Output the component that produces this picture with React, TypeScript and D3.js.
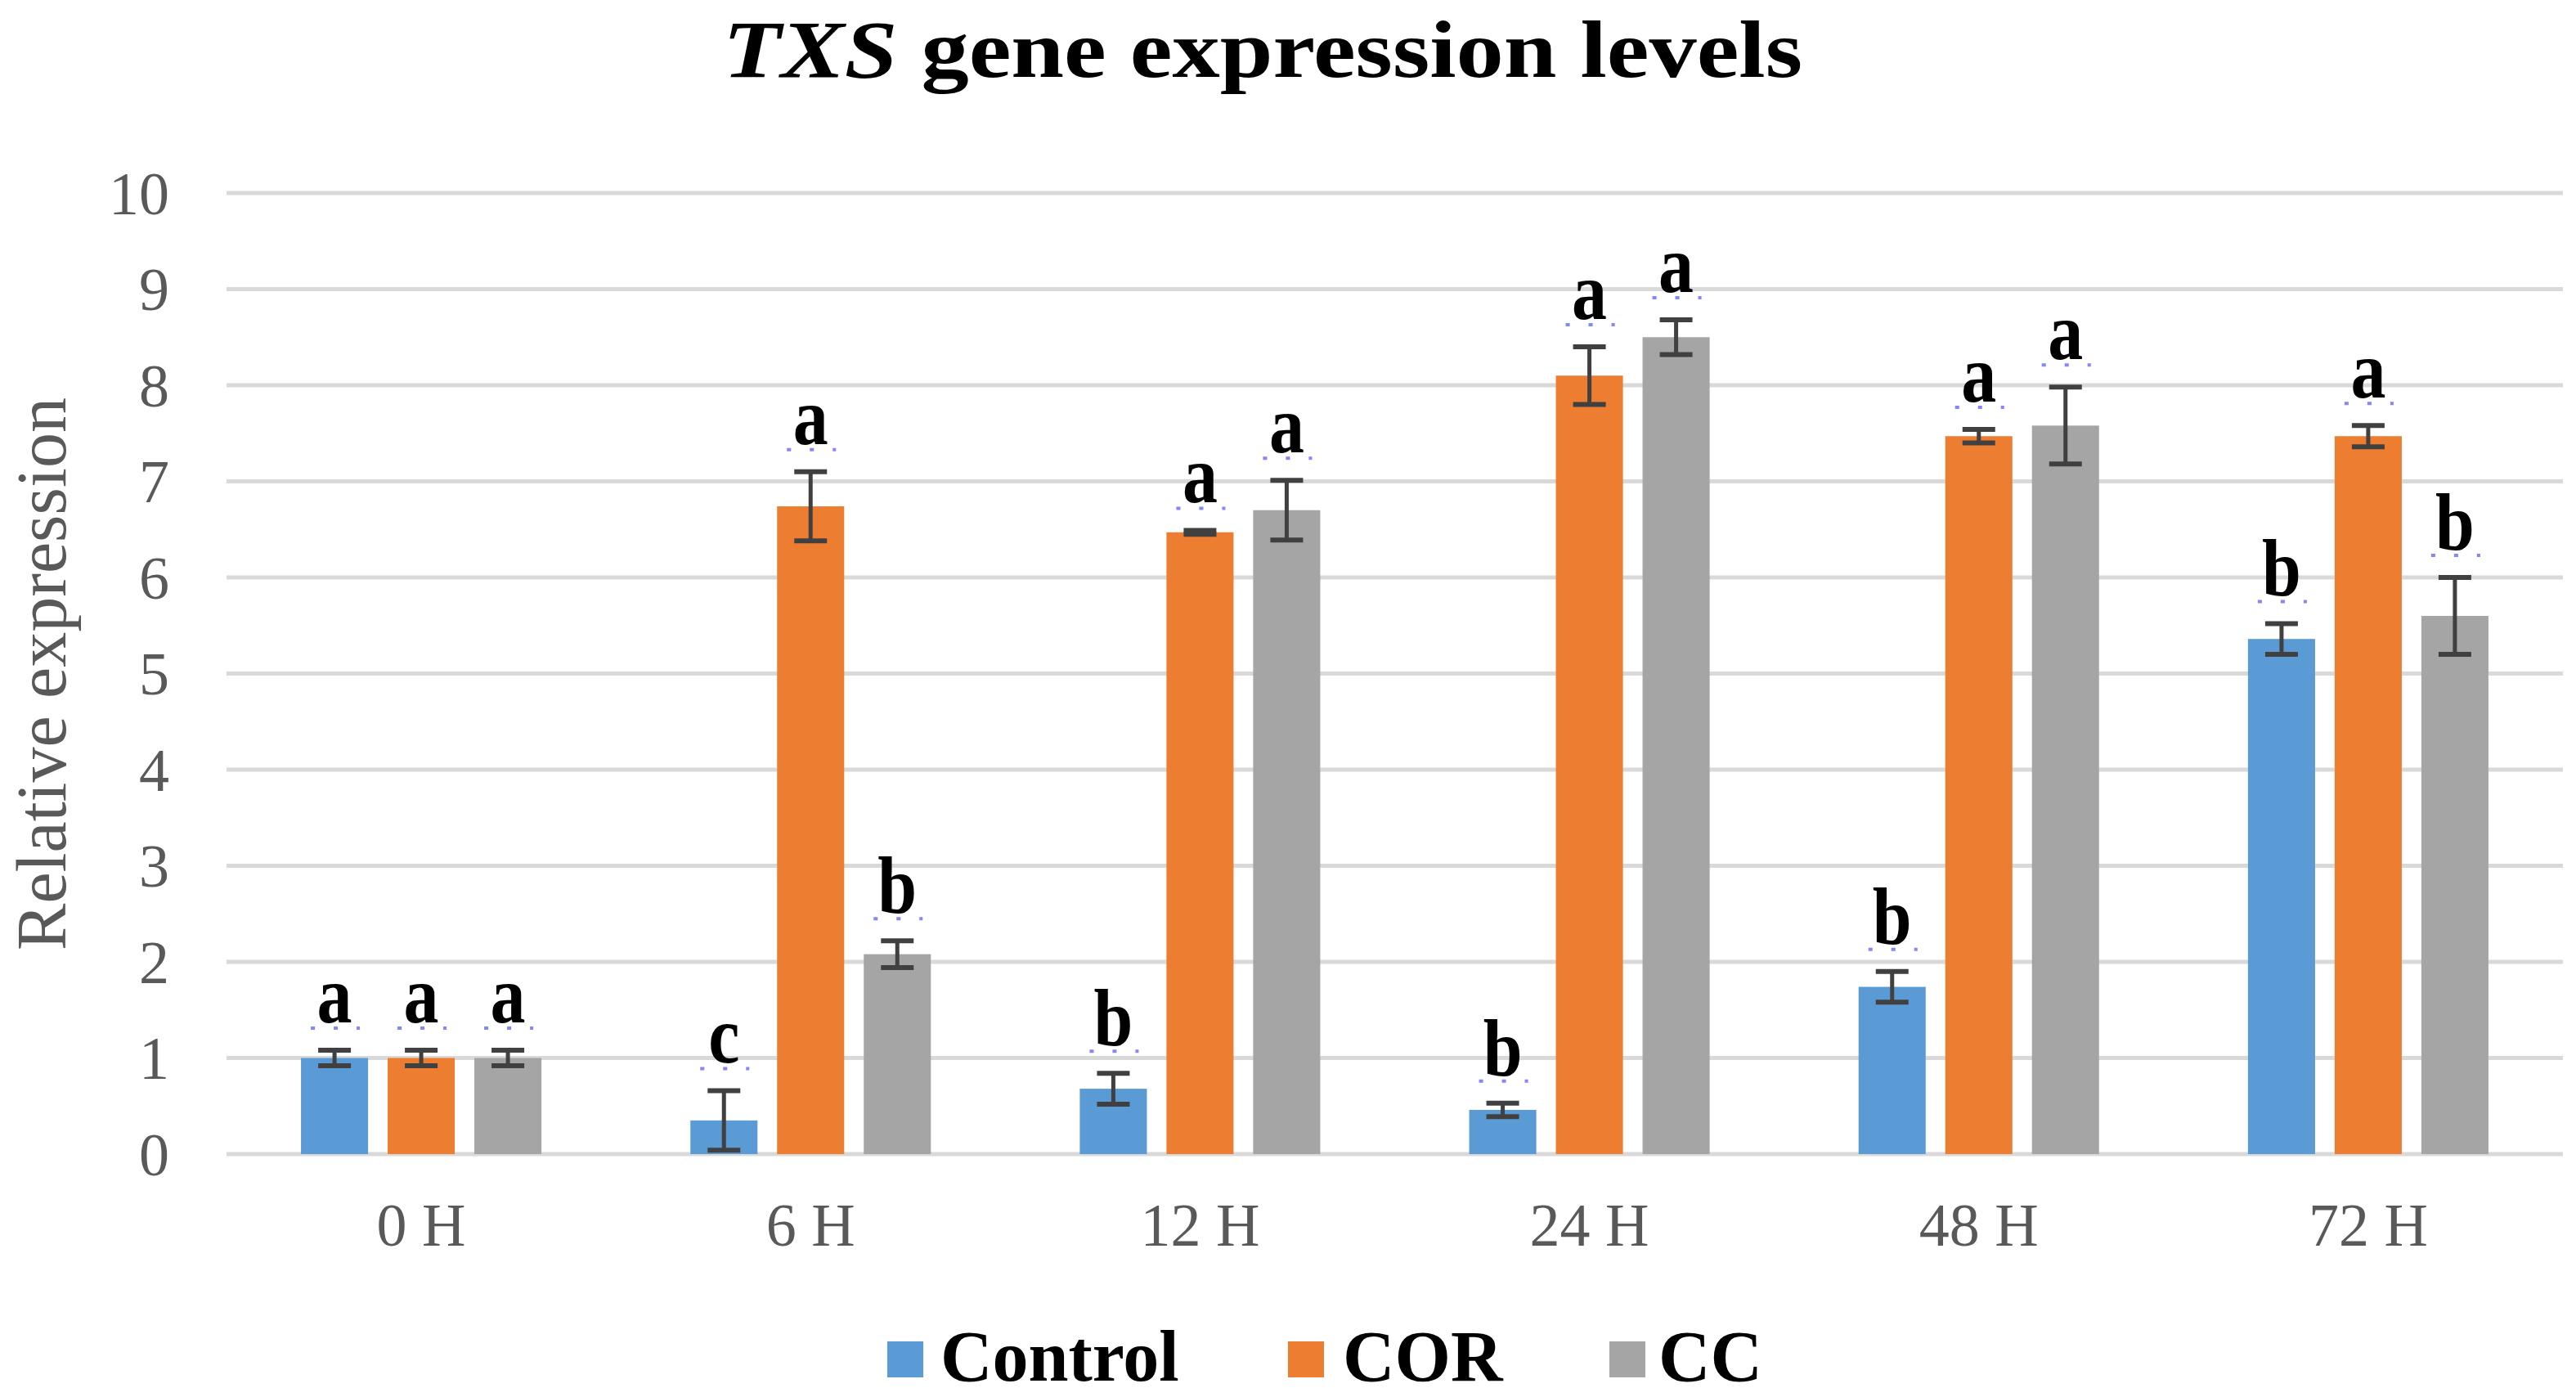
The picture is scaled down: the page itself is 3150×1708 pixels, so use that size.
import React from 'react';
import * as d3 from 'd3';

const categories = ['0 H', '6 H', '12 H', '24 H', '48 H', '72 H'];
const seriesNames = ['Control', 'COR', 'CC'];
const controlValues = [1.0, 0.35, 0.68, 0.46, 1.74, 5.36];
const controlErrors = [0.08, 0.31, 0.16, 0.07, 0.16, 0.16];
const corValues = [1.0, 6.74, 6.47, 8.1, 7.47, 7.47];
const corErrors = [0.08, 0.36, 0.02, 0.3, 0.07, 0.11];
const ccValues = [1.0, 2.08, 6.7, 8.5, 7.58, 5.6];
const ccErrors = [0.08, 0.14, 0.31, 0.18, 0.4, 0.4];
const controlLetters = ['a', 'c', 'b', 'b', 'b', 'b'];
const corLetters = ['a', 'a', 'a', 'a', 'a', 'a'];
const ccLetters = ['a', 'b', 'a', 'a', 'a', 'b'];
const yTicks = [0, 1, 2, 3, 4, 5, 6, 7, 8, 9, 10];
const colors = ['#5B9BD5', '#ED7D31', '#A5A5A5'];

const W = 3150;
const H = 1708;
const serif = "'Liberation Serif', 'Times New Roman', serif";

export default function App() {
  const series = [
    { name: seriesNames[0], values: controlValues, errors: controlErrors, letters: controlLetters, color: colors[0] },
    { name: seriesNames[1], values: corValues, errors: corErrors, letters: corLetters, color: colors[1] },
    { name: seriesNames[2], values: ccValues, errors: ccErrors, letters: ccLetters, color: colors[2] },
  ];
  const x = d3.scaleBand<string>().domain(categories).range([277, 3134]).paddingInner(0).paddingOuter(0);
  const xs = d3.scaleBand<string>().domain(seriesNames).range([-159, 159]).paddingInner(0.226).paddingOuter(0.113);
  const y = d3.scaleLinear().domain([0, 10]).range([1411, 236]);
  const bw = xs.bandwidth();
  const cap = 20;

  const legendItems = [
    { name: seriesNames[0], sx: 1085, tx: 1150, color: colors[0] },
    { name: seriesNames[1], sx: 1575, tx: 1642, color: colors[1] },
    { name: seriesNames[2], sx: 1968, tx: 2028, color: colors[2] },
  ];

  return (
    <svg width={W} height={H} style={{ position: 'absolute', left: 0, top: 0, background: '#fff' }}>
      <rect x={0} y={0} width={W} height={H} fill="#fff" />
      <text x={1544} y={94} textAnchor="middle" fontFamily={serif} fontWeight="bold" fontSize={100}
        textLength={1320} lengthAdjust="spacingAndGlyphs" fill="#000">
        <tspan fontStyle="italic">TXS</tspan> gene expression levels
      </text>
      {yTicks.map((t) => (
        <g key={t}>
          <line x1={277} x2={3134} y1={y(t)} y2={y(t)} stroke="#D9D9D9" strokeWidth={5} />
          <text x={207} y={y(t)} dy="0.35em" textAnchor="end" fontFamily={serif} fontSize={74} fill="#595959">{t}</text>
        </g>
      ))}
      <text transform={`translate(80, 824) rotate(-90)`} textAnchor="middle" fontFamily={serif} fontSize={86} fill="#595959">
        Relative expression
      </text>
      {categories.map((c) => (
        <text key={c} x={(x(c) as number) + x.bandwidth() / 2} y={1523} textAnchor="middle" fontFamily={serif} fontSize={74} fill="#595959">{c}</text>
      ))}
      {series.map((s) => (
        <g key={s.name}>
          {categories.map((c, i) => {
            const cx = (x(c) as number) + x.bandwidth() / 2 + (xs(s.name) as number) + bw / 2;
            const v = s.values[i];
            const e = s.errors[i];
            const top = y(v + e);
            const bot = y(v - e);
            const base = top - 34;
            return (
              <g key={c}>
                <rect x={cx - bw / 2} y={y(v)} width={bw} height={y(0) - y(v)} fill={s.color} />
                <line x1={cx} x2={cx} y1={top} y2={bot} stroke="#404040" strokeWidth={5} />
                <line x1={cx - cap} x2={cx + cap} y1={top} y2={top} stroke="#404040" strokeWidth={6} />
                <line x1={cx - cap} x2={cx + cap} y1={bot} y2={bot} stroke="#404040" strokeWidth={6} />
                <text transform={`translate(${cx}, ${base}) scale(1, 1.15)`} textAnchor="middle" fontFamily={serif}
                  fontWeight="bold" fontSize={86} fill="#000">{s.letters[i]}</text>
                <line x1={cx - 29} x2={cx + 31} y1={base + 7} y2={base + 7} stroke="#7070ff" strokeWidth={4}
                  strokeDasharray="5 23" opacity={0.85} />
              </g>
            );
          })}
        </g>
      ))}
      {legendItems.map((l) => (
        <g key={l.name}>
          <rect x={l.sx} y={1640} width={44} height={44} fill={l.color} />
          <text x={l.tx} y={1688} fontFamily={serif} fontWeight="bold" fontSize={88} fill="#000">{l.name}</text>
        </g>
      ))}
    </svg>
  );
}
